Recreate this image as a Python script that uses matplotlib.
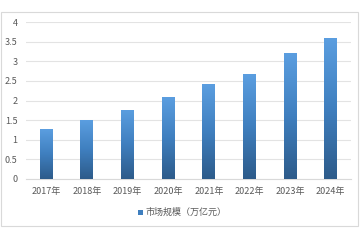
import matplotlib.pyplot as plt
import numpy as np
from matplotlib.patches import Rectangle
from matplotlib.colors import LinearSegmentedColormap

plt.rcParams['font.family'] = ['Noto Sans CJK SC', 'DejaVu Sans']

years = ['2017年', '2018年', '2019年', '2020年', '2021年', '2022年', '2023年', '2024年']
market_size = [1.27, 1.50, 1.77, 2.08, 2.41, 2.67, 3.20, 3.59]
legend_label = '市场规模（万亿元）'

fig = plt.figure(figsize=(3.6, 2.4), dpi=100)
fig.patch.set_facecolor('white')

# outer chart frame
fig.add_artist(Rectangle((1 / 360, 1 - 226 / 240), 357 / 360, 214 / 240,
                         transform=fig.transFigure, fill=False,
                         edgecolor='#d9d9d9', linewidth=0.8))

ax = fig.add_axes([26 / 360, 1 - 179 / 240, 325 / 360, 157 / 240])
x = np.arange(len(years))
bars = ax.bar(x, market_size, width=0.32, color='none', zorder=3)

# vertical gradient: light blue on top, dark blue at the bottom
cmap = LinearSegmentedColormap.from_list('bar', ['#2d5b8a', '#3f7fbf', '#5b9ee0'])
grad = np.linspace(0, 1, 256).reshape(-1, 1)
for rect in bars:
    x0, w, h = rect.get_x(), rect.get_width(), rect.get_height()
    im = ax.imshow(grad, extent=(x0, x0 + w, 0, h), origin='lower',
                   cmap=cmap, aspect='auto', zorder=3)
    im.set_clip_path(rect)

ax.set_xlim(-0.5, len(years) - 0.5)
ax.set_ylim(0, 4)
ax.set_yticks(np.arange(0, 4.01, 0.5))
ax.set_yticklabels(['0', '0.5', '1', '1.5', '2', '2.5', '3', '3.5', '4'])
ax.set_xticks(x)
ax.set_xticklabels(years)
ax.yaxis.grid(True, color='#e3e3e3', linewidth=0.8, zorder=0)
ax.set_axisbelow(True)
for s in ['top', 'right', 'left']:
    ax.spines[s].set_visible(False)
ax.spines['bottom'].set_color('#d9d9d9')
ax.tick_params(axis='both', length=0, labelsize=6.5, colors='#595959')
ax.tick_params(axis='x', pad=6)
ax.tick_params(axis='y', pad=6)

# legend below the plot
fig.add_artist(Rectangle((138 / 360, 1 - 215 / 240), 5 / 360, 5 / 240,
                         transform=fig.transFigure, facecolor='#3f7fbf', edgecolor='none'))
fig.text(145 / 360, 1 - 212 / 240, legend_label, fontsize=6.5, color='#595959',
         ha='left', va='center')

fig.savefig('out.png', dpi=100, facecolor='white')
